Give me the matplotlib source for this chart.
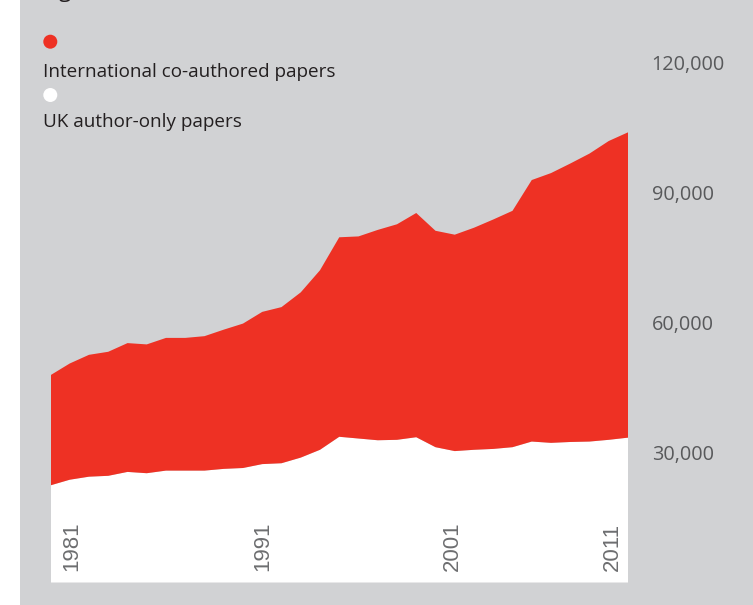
import matplotlib
matplotlib.use("Agg")
import matplotlib.pyplot as plt
from matplotlib.patches import Rectangle, Ellipse

years = list(range(1981, 2012))
uk_only = [22.4, 23.7, 24.4, 24.6, 25.5, 25.2, 25.8, 25.8, 25.8, 26.2, 26.4,
           27.3, 27.5, 28.8, 30.6, 33.6, 33.2, 32.8, 32.9, 33.5, 31.2,
           30.3, 30.6, 30.8, 31.2, 32.5, 32.2, 32.4, 32.5, 32.9, 33.4]
international = [25.4, 26.8, 28.1, 28.6, 29.7, 29.7, 30.6, 30.6, 31.0, 32.1, 33.3,
                 35.1, 36.0, 38.1, 41.4, 46.0, 46.6, 48.5, 49.7, 51.7, 49.9,
                 49.9, 51.2, 52.9, 54.5, 60.3, 62.2, 64.2, 66.4, 68.9, 70.4]
# values above are thousands of papers
uk_only = [v * 1000 for v in uk_only]
international = [v * 1000 for v in international]

year_labels = ["1981", "1991", "2001", "2011"]
year_label_pos = [1982.1, 1992.0, 2001.9, 2010.2]
y_ticks = [30000, 60000, 90000, 120000]
series_names = ["International co-authored papers", "UK author-only papers"]

RED = "#ee3124"
GREY_BG = "#d1d2d4"
W, H = 753, 605

plt.rcParams['font.family'] = ['Open Sans', 'DejaVu Sans']

fig = plt.figure(figsize=(W / 100, H / 100), dpi=100)
fig.patch.set_facecolor("white")
fig.patches.append(Rectangle((20 / W, 0), 1 - 20 / W, 1, transform=fig.transFigure,
                             facecolor=GREY_BG, edgecolor="none", zorder=-10))

left, right, base, top = 50.5, 628.0, 582.5, 18.7
ax = fig.add_axes([left / W, (H - base) / H, (right - left) / W, (base - top) / H])
ax.set_facecolor("none")
ax.stackplot(years, uk_only, international, colors=["white", RED], linewidth=0)
ax.set_xlim(1981, 2011)
ax.set_ylim(0, 130000)
for s in ax.spines.values():
    s.set_visible(False)

ax.yaxis.tick_right()
ax.set_yticks(y_ticks, [f"{v:,}" for v in y_ticks])
ax.tick_params(axis="y", length=0, pad=17, labelsize=14.3, labelcolor="#58595b")
ax.set_xticks([])

for lab, xp in zip(year_labels, year_label_pos):
    ax.annotate(lab, xy=(xp, 0), xytext=(0, 8.3), textcoords="offset points",
                rotation=90, ha="center", va="bottom", fontsize=16,
                color="#6d6e70", family=['Liberation Sans Narrow', 'Liberation Sans'])

# legend: dots with text underneath
dot_w, dot_h = 14 / W, 14 / H
fig.patches.append(Ellipse((50.3 / W, 1 - 41.7 / H), dot_w, dot_h, transform=fig.transFigure,
                           facecolor=RED, edgecolor="none"))
fig.patches.append(Ellipse((50.3 / W, 1 - 95 / H), dot_w, dot_h, transform=fig.transFigure,
                           facecolor="white", edgecolor="none"))
fig.text(43 / W, 1 - 76.7 / H, series_names[0], fontsize=13.6, color="#231f20", va="baseline")
fig.text(43 / W, 1 - 126.7 / H, series_names[1], fontsize=13.6, color="#231f20", va="baseline")

# title line cut off at the top of the image
fig.text(43 / W, 1 + 3 / H, "Figure", fontsize=16, color="#231f20", va="baseline")

fig.savefig("out.png", dpi=100)
